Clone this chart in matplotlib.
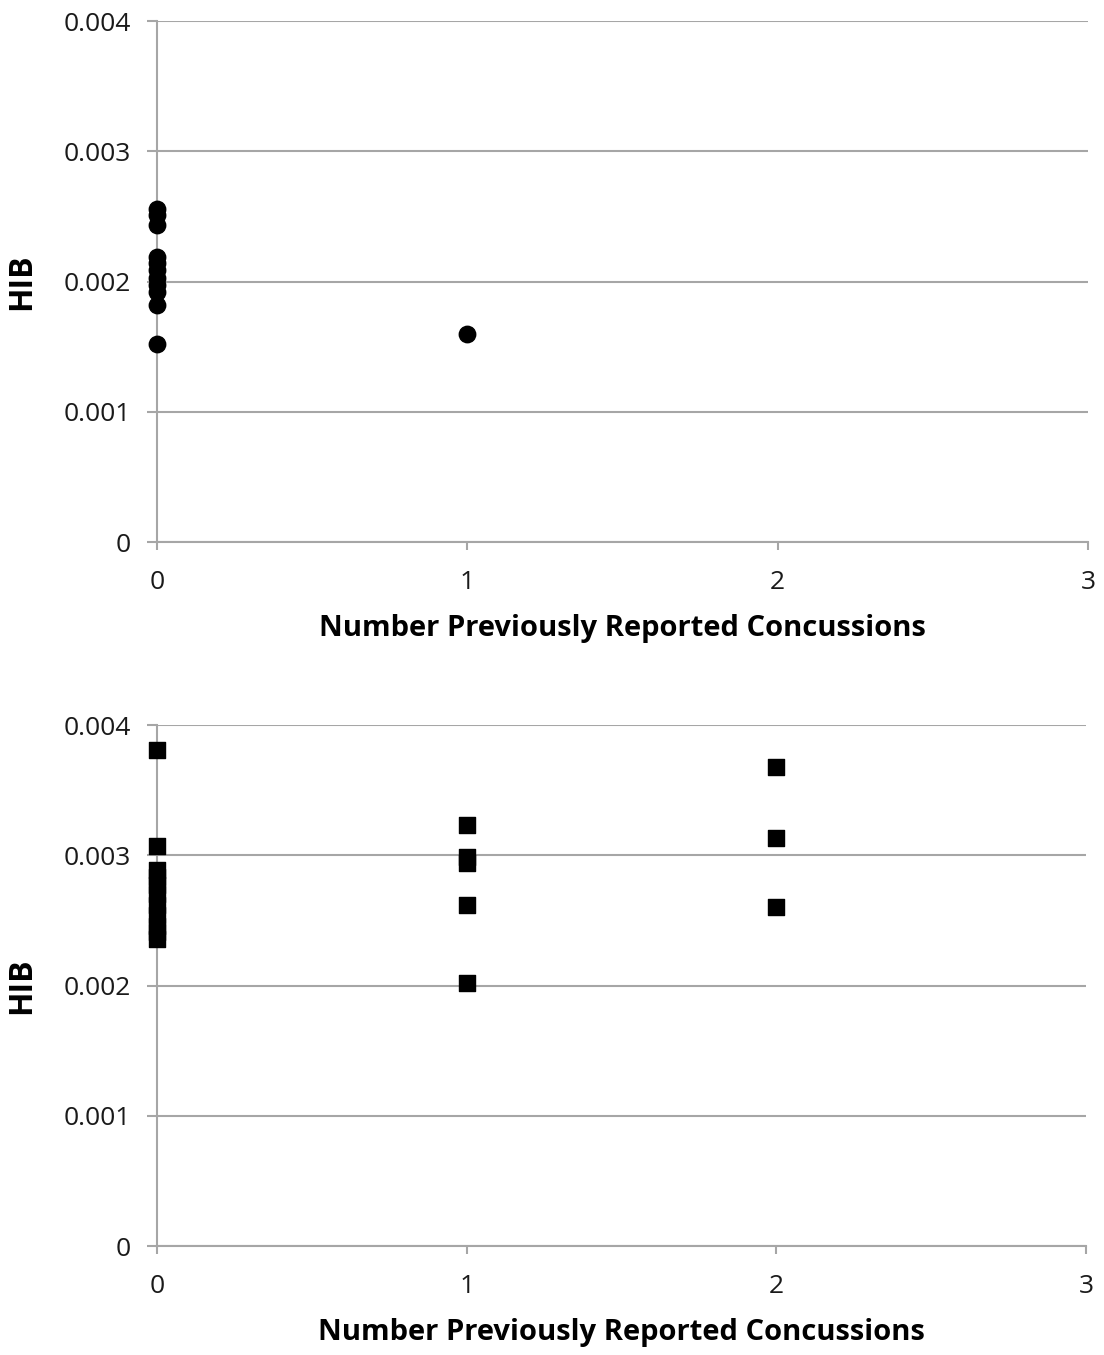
import matplotlib.pyplot as plt
import numpy as np

plt.rcParams['font.family'] = ['Open Sans', 'DejaVu Sans']

# top panel (circles)
top_x = [0, 0, 0, 0, 0, 0, 0, 0, 0, 0, 0, 1]
top_hib = [0.00256, 0.00251, 0.00243, 0.00219, 0.00214, 0.00209,
           0.00203, 0.00197, 0.00192, 0.00182, 0.00152, 0.00160]

# bottom panel (squares)
bot_x = [0, 0, 0, 0, 0, 0, 0, 0, 0, 0, 0,
         1, 1, 1, 1, 1,
         2, 2, 2]
bot_hib = [0.00381, 0.00307, 0.00289, 0.00283, 0.00277, 0.00270, 0.00262,
           0.00254, 0.00246, 0.00241, 0.00236,
           0.00323, 0.00299, 0.00294, 0.00262, 0.00202,
           0.00368, 0.00313, 0.00260]

x_ticks = [0, 1, 2, 3]
y_ticks = [0, 0.001, 0.002, 0.003, 0.004]
y_labels = ['0', '0.001', '0.002', '0.003', '0.004']

fig = plt.figure(figsize=(11.04, 13.55), dpi=100)
ax1 = fig.add_axes([0.1422, 0.600, 0.8433, 0.3845])
ax2 = fig.add_axes([0.1422, 0.0804, 0.8415, 0.3845])


def style(ax):
    ax.set_xlim(0, 3)
    ax.set_ylim(0, 0.004)
    ax.set_xticks(x_ticks)
    ax.set_yticks(y_ticks)
    ax.set_yticklabels(y_labels)
    ax.grid(axis='y', color='#a6a6a6', linewidth=1.5)
    ax.set_axisbelow(True)
    for s in ['top', 'right']:
        ax.spines[s].set_visible(False)
    for s in ['left', 'bottom']:
        ax.spines[s].set_color('#a6a6a6')
        ax.spines[s].set_linewidth(1.5)
    ax.tick_params(axis='x', length=6, width=1.5, color='#a6a6a6',
                   labelsize=19, pad=14, labelcolor='#1a1a1a')
    ax.tick_params(axis='y', length=7, width=1.5, color='#a6a6a6',
                   labelsize=19, pad=12, labelcolor='#1a1a1a')
    ax.set_xlabel('Number Previously Reported Concussions',
                  fontsize=21, fontweight='bold', labelpad=14)
    ax.set_ylabel('HIB', fontsize=23, fontweight='bold', labelpad=18)


ax1.scatter(top_x, top_hib, marker='o', s=140, color='black', clip_on=False, zorder=3)
ax2.scatter(bot_x, bot_hib, marker='s', s=120, color='black', clip_on=False, zorder=3)
style(ax1)
style(ax2)

fig.savefig('out.png', dpi=100)
